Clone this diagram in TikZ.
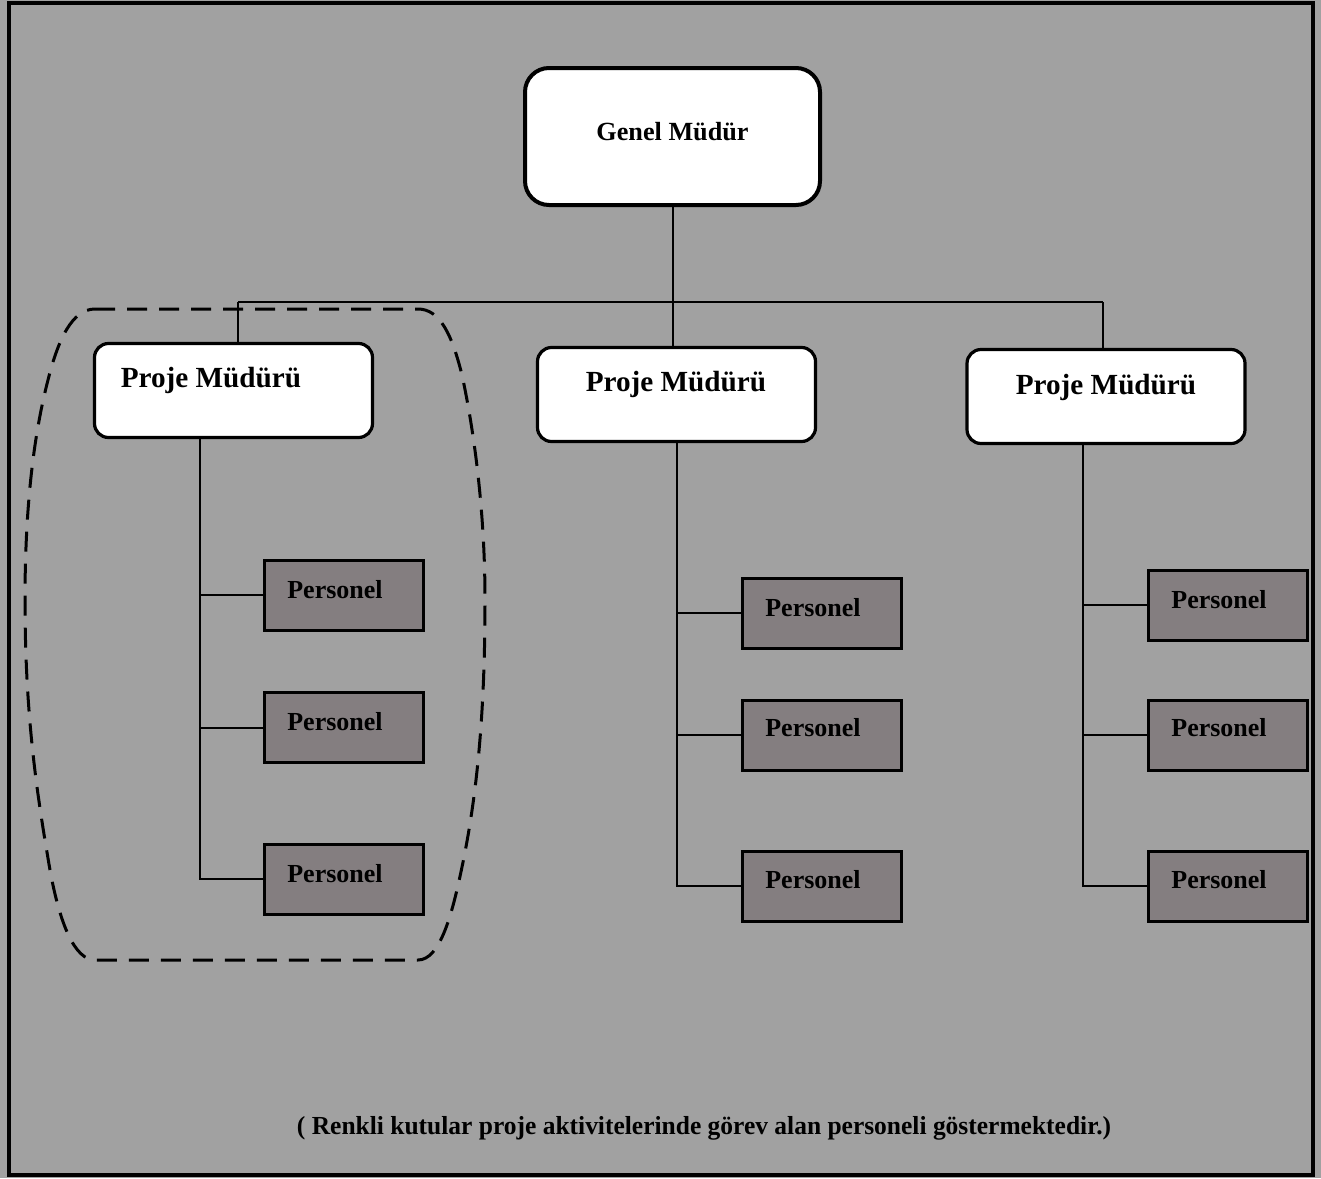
\documentclass[tikz,border=0pt]{standalone}
\usepackage{fontspec}
\setmainfont{Liberation Serif}
\begin{document}
\begin{tikzpicture}[x=0.5pt,y=-0.5pt,
  frame/.style={draw=black,line width=1.6pt},
  topbox/.style={draw=black,line width=2pt,fill=white,rounded corners=12pt,
    minimum width=147.5pt,minimum height=68.5pt,inner sep=0pt},
  pmbox/.style={draw=black,line width=1.6pt,fill=white,rounded corners=7pt,
    minimum width=139pt,minimum height=47pt,inner sep=0pt},
  perbox/.style={draw=black,line width=1.5pt,fill={rgb,255:red,132;green,126;blue,128},
    minimum width=79.5pt,minimum height=35pt,inner sep=0pt},
  pmtext/.style={font=\bfseries\fontsize{14.6pt}{16pt}\selectfont},
  pertext/.style={font=\bfseries\fontsize{13pt}{15pt}\selectfont,text=black},
  conn/.style={draw=black,line width=1pt},
  group/.style={draw=black,line width=1.5pt,dash pattern=on 10pt off 6pt}
]
\useasboundingbox (0,0) rectangle (1321,1178);
\fill[black!37] (0,0) rectangle (1321,1178);
\draw[frame] (9,3) rectangle (1313,1175);

% top
\node[topbox] (gm) at (672.5,136.5) {};
\node[font=\bfseries\fontsize{13.1pt}{15pt}\selectfont] (gmt) at (672.5,132) {Genel Müdür};

% project managers
\node[pmbox] (pm1) at (233.5,390.5) {};
\node[pmtext] (pm1t) at (211,380) {Proje Müdürü};
\node[pmbox] (pm2) at (676.5,394.5) {};
\node[pmtext] (pm2t) at (676,384) {Proje Müdürü};
\node[pmbox] (pm3) at (1106,396.5) {};
\node[pmtext] (pm3t) at (1106,387) {Proje Müdürü};

% connectors top
\coordinate (jc) at (672.5,302);
\coordinate (jl) at (238,302);
\coordinate (jr) at (1103,302);
\draw[conn] (gm.south) -- (jc);
\draw[conn] (jl) -- (jr);
\draw[conn] (jl) -- (jl |- pm1.north);
\draw[conn] (jc) -- (jc |- pm2.north);
\draw[conn] (jr) -- (jr |- pm3.north);

% personnel boxes
\node[perbox] (p11) at (343.5,595) {};
\node[pertext] (p11t) at (335,590) {Personel};
\node[perbox] (p12) at (343.5,727.5) {};
\node[pertext] (p12t) at (335,722) {Personel};
\node[perbox] (p13) at (343.5,879) {};
\node[pertext] (p13t) at (335,874) {Personel};

\node[perbox] (p21) at (821.5,613) {};
\node[pertext] (p21t) at (813,608) {Personel};
\node[perbox] (p22) at (821.5,735) {};
\node[pertext] (p22t) at (813,728) {Personel};
\node[perbox] (p23) at (821.5,886) {};
\node[pertext] (p23t) at (813,880) {Personel};

\node[perbox] (p31) at (1227.5,605) {};
\node[pertext] (p31t) at (1219,600) {Personel};
\node[perbox] (p32) at (1227.5,735) {};
\node[pertext] (p32t) at (1219,728) {Personel};
\node[perbox] (p33) at (1227.5,886) {};
\node[pertext] (p33t) at (1219,880) {Personel};

% trunks
\coordinate (t1) at (200,438);
\coordinate (t2) at (677,441);
\coordinate (t3) at (1083,443);
\draw[conn] (t1) -- (t1 |- p13.west) -- (p13.west);
\draw[conn] (t1 |- p11.west) -- (p11.west);
\draw[conn] (t1 |- p12.west) -- (p12.west);
\draw[conn] (t2) -- (t2 |- p23.west) -- (p23.west);
\draw[conn] (t2 |- p21.west) -- (p21.west);
\draw[conn] (t2 |- p22.west) -- (p22.west);
\draw[conn] (t3) -- (t3 |- p33.west) -- (p33.west);
\draw[conn] (t3 |- p31.west) -- (p31.west);
\draw[conn] (t3 |- p32.west) -- (p32.west);

% dashed group
\draw[group] (95,309) -- (418,309)
  .. controls (440,309) and (452,335) .. (462,375)
  .. controls (476,440) and (485,520) .. (485,600)
  .. controls (485,720) and (476,800) .. (462,867)
  .. controls (452,915) and (440,960) .. (418,960)
  -- (95,960)
  .. controls (75,960) and (60,925) .. (50,870)
  .. controls (38,800) and (25,720) .. (25,600)
  .. controls (25,500) and (35,430) .. (48,380)
  .. controls (58,340) and (72,309) .. (95,309) -- cycle;

% caption
\node[font=\bfseries\fontsize{13pt}{15pt}\selectfont,xscale=0.98] (cap) at (704,1128) {( Renkli kutular proje aktivitelerinde görev alan personeli göstermektedir.)};
\end{tikzpicture}
\end{document}
